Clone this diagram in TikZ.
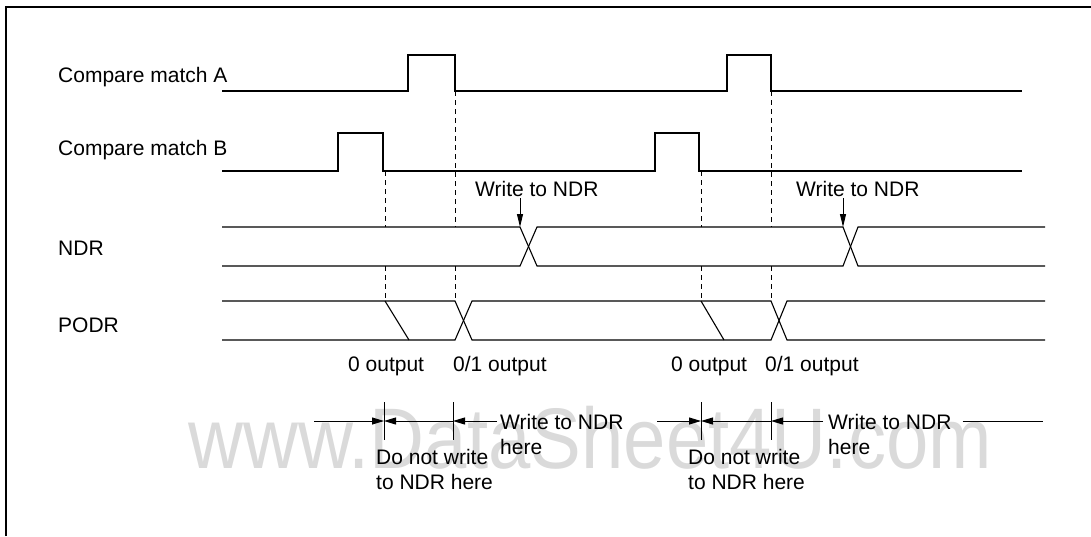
\documentclass[tikz,border=0pt]{standalone}
\usepackage{fontspec}
\setmainfont{Liberation Sans}
\usetikzlibrary{arrows.meta}
\definecolor{wmgray}{RGB}{218,218,218}

\begin{document}
\begin{tikzpicture}[x=1pt,y=-1pt,
  sig/.style={line width=1.1pt},
  guide/.style={line width=0.9pt,dash pattern=on 5pt off 4pt},
  lbl/.style={font=\fontsize{21}{25}\selectfont,anchor=base west,inner sep=0pt},
  twolbl/.style={font=\fontsize{21}{25}\selectfont,anchor=north west,inner sep=0pt,align=left},
  dimline/.style={line width=1pt,-{Triangle[length=12pt,width=7pt]}},
  ptr/.style={line width=1pt,-{Triangle[length=13pt,width=6pt]}}]
\useasboundingbox (0,0) rectangle (1091,536);
% watermark
\node[text=wmgray,font=\fontsize{86}{86}\selectfont,inner sep=0pt] (wm) at (590,438) {\scalebox{0.885}[1]{www.DataSheet4U.com}};
% frame
\draw[line width=2pt] (6,536) -- (6,7) -- (1091,7);
% signal names
\node[lbl] (cma) at (58,82) {Compare match A};
\node[lbl] (cmb) at (58,155) {Compare match B};
\node[lbl] (ndr) at (58,255) {NDR};
\node[lbl] (podr) at (58,332) {PODR};
% compare match A
\draw[sig] (222,91) -- (408,91) -- (408,55) -- (455,55) -- (455,91) -- (727,91) -- (727,55) -- (771,55) -- (771,91) -- (1022,91);
% compare match B
\draw[sig] (222,171) -- (338,171) -- (338,133) -- (383,133) -- (383,171) -- (655,171) -- (655,133) -- (699,133) -- (699,171) -- (1022,171);
% NDR
\draw[sig] (222,227) -- (520,227) -- (537,266) -- (843,266) -- (858,227) -- (1045,227);
\draw[sig] (222,266) -- (520,266) -- (537,227) -- (843,227) -- (858,266) -- (1045,266);
% PODR
\draw[sig] (222,301) -- (455,301) -- (472,340) -- (771,340) -- (787,301) -- (1045,301);
\draw[sig] (222,340) -- (455,340) -- (472,301) -- (771,301) -- (787,340) -- (1045,340);
\draw[sig] (385,301) -- (409,340);
\draw[sig] (701,301) -- (724,340);
% timing guides
\foreach \x/\y in {455/91,771/91,385/171,701/171}{
  \draw[guide] (\x,\y) -- (\x,227);
  \draw[guide] (\x,266) -- (\x,301);
}
% write points
\node[lbl] (wra) at (475,196) {Write to NDR};
\node[lbl] (wrb) at (796,196) {Write to NDR};
\coordinate (ndra) at (520,227);
\coordinate (ndrb) at (843,227);
\draw[ptr,shorten <=2pt] (wra.south -| ndra) -- (ndra);
\draw[ptr,shorten <=2pt] (wrb.south -| ndrb) -- (ndrb);
% output labels
\node[lbl] (zra) at (348,371) {0 output};
\node[lbl] (zoa) at (453,371) {0/1 output};
\node[lbl] (zrb) at (671,371) {0 output};
\node[lbl] (zob) at (765,371) {0/1 output};
% ranges
\foreach \x in {384,453,701,771}{ \draw[line width=1pt] (\x,402) -- (\x,440); }
\node[twolbl] (hra) at (500,414) {Write to NDR\\here};
\node[twolbl] (hrb) at (828,414) {Write to NDR\\here};
\node[twolbl] (nta) at (376,449) {Do not write\\to NDR here};
\node[twolbl] (ntb) at (688,449) {Do not write\\to NDR here};
\coordinate (la) at (314,421);
\coordinate (lb) at (657,421);
\coordinate (ea) at (1043,421);
\draw[dimline] (la) -- (384,421);
\draw[dimline,{Triangle[length=12pt,width=7pt]}-] (384,421) -- (453,421);
\draw[dimline] (hra.west |- la) ++(-3,0) -- (453,421);
\draw[dimline] (lb) -- (701,421);
\draw[dimline,{Triangle[length=12pt,width=7pt]}-] (701,421) -- (771,421);
\draw[dimline] (hrb.west |- lb) ++(-5,0) -- (771,421);
\draw[line width=1pt] (hrb.east |- lb) ++(11,0) -- (ea);
\end{tikzpicture}
\end{document}
